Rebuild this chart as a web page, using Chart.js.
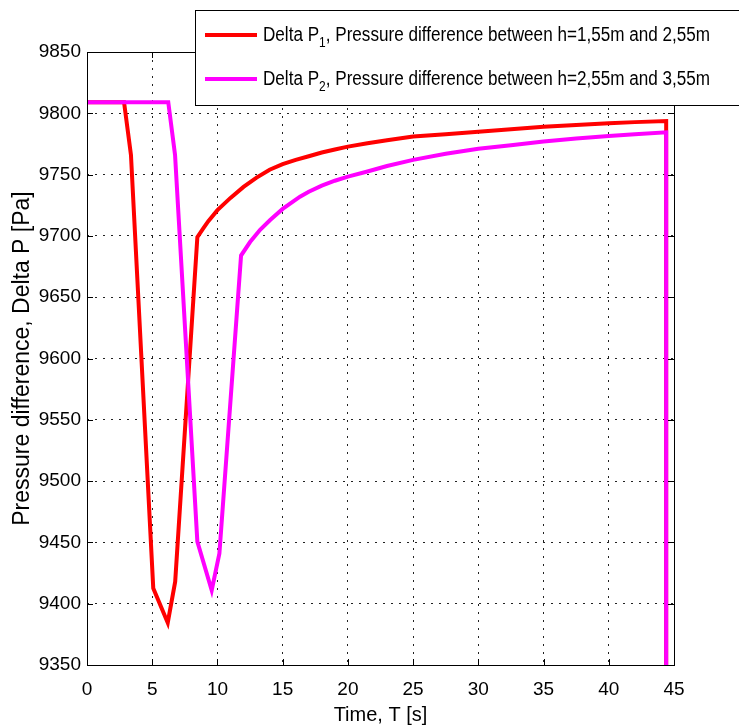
<!DOCTYPE html>
<html>
<head>
<meta charset="utf-8">
<script src="https://cdn.jsdelivr.net/npm/chart.js@4"></script>
<style>
  body { margin: 0; background: #fff; }
  canvas { display: block; }
</style>
</head>
<body>
<canvas id="pressure-chart" width="739" height="726"></canvas>
<script>
const p1Time = [0, 2.84, 3.37, 5.08, 6.19, 6.76, 8.46, 8.9, 9.3, 10, 11, 12, 13, 14, 15, 16, 17, 18, 19, 20, 21.5, 23, 25, 27.5, 30, 32.5, 35, 37.5, 40, 42, 44.4, 44.4]
const p1Values = [9809, 9809, 9766, 9412.6, 9384.5, 9418, 9699, 9706, 9712, 9721, 9731, 9740, 9747.5, 9754, 9758.5, 9762, 9765, 9768, 9770.5, 9772.8, 9775.5, 9778, 9781, 9783, 9785, 9787, 9789, 9790.5, 9791.8, 9792.8, 9793.7, 9300]

const p2Time = [0, 6.23, 6.75, 8.46, 9.56, 10.15, 11.81, 12.5, 13.27, 14.04, 15, 16.33, 17, 18, 19, 20, 21.5, 23, 25, 27.5, 30, 32.5, 35, 37.5, 40, 42, 44.4, 44.4]
const p2Values = [9809, 9809, 9766, 9450.6, 9411, 9441, 9684, 9695, 9705, 9713, 9722, 9732, 9736, 9741, 9745, 9748.3, 9752.5, 9757, 9762, 9767, 9771, 9774, 9777, 9779.5, 9781.5, 9783, 9784.5, 9300]

const seriesNames = ["Delta P", "Delta P"]
const seriesSubs = ["1", "2"]
const seriesRest = [", Pressure difference between h=1,55m and 2,55m", ", Pressure difference between h=2,55m and 3,55m"]
const seriesColors = ["#ff0000", "#ff00ff"]

const xTitle = "Time, T [s]"
const yTitle = "Pressure difference, Delta P [Pa]"

const fontFamily = "'Liberation Sans', Arial, sans-serif"

const toPoints = (xs, ys) => xs.map((x, i) => ({ x: x, y: ys[i] }))

// matlab style box with inward ticks
const boxPlugin = {
    id: "box",
    afterDatasetsDraw(chart) {
        const ctx = chart.ctx
        const a = chart.chartArea
        const xs = chart.scales.x
        const ys = chart.scales.y
        ctx.save()
        ctx.strokeStyle = "#000"
        ctx.lineWidth = 1
        ctx.beginPath()
        xs.ticks.forEach(t => {
            const px = Math.round(xs.getPixelForValue(t.value)) + 0.5
            ctx.moveTo(px, a.bottom); ctx.lineTo(px, a.bottom - 6)
            ctx.moveTo(px, a.top); ctx.lineTo(px, a.top + 6)
        })
        ys.ticks.forEach(t => {
            const py = Math.round(ys.getPixelForValue(t.value)) + 0.5
            ctx.moveTo(a.left, py); ctx.lineTo(a.left + 6, py)
            ctx.moveTo(a.right, py); ctx.lineTo(a.right - 6, py)
        })
        ctx.stroke()
        ctx.strokeRect(Math.round(a.left) + 0.5, Math.round(a.top) + 0.5, Math.round(a.right - a.left), Math.round(a.bottom - a.top))
        ctx.restore()
    }
}

const legendPlugin = {
    id: "subLegend",
    afterDraw(chart) {
        const ctx = chart.ctx
        ctx.save()
        ctx.fillStyle = "#fff"
        ctx.fillRect(195, 10, 560, 95)
        ctx.strokeStyle = "#000"
        ctx.lineWidth = 1
        ctx.strokeRect(195.5, 10.5, 560, 95)
        chart.data.datasets.forEach((ds, i) => {
            const ly = 35 + i * 44
            ctx.strokeStyle = ds.borderColor
            ctx.lineWidth = 4
            ctx.beginPath()
            ctx.moveTo(205, ly)
            ctx.lineTo(257, ly)
            ctx.stroke()

            // squeeze text a bit, the original font is narrow
            ctx.font = "20px " + fontFamily
            const w1 = ctx.measureText(seriesNames[i]).width + ctx.measureText(seriesRest[i]).width
            ctx.font = "14px " + fontFamily
            const w2 = ctx.measureText(seriesSubs[i]).width
            const sx = 447 / (w1 + w2)

            ctx.save()
            ctx.translate(263, 0)
            ctx.scale(sx, 1)
            ctx.fillStyle = "#000"
            ctx.textBaseline = "alphabetic"
            let x = 0
            ctx.font = "20px " + fontFamily
            ctx.fillText(seriesNames[i], x, ly + 6)
            x += ctx.measureText(seriesNames[i]).width
            ctx.font = "14px " + fontFamily
            ctx.fillText(seriesSubs[i], x, ly + 12)
            x += ctx.measureText(seriesSubs[i]).width
            ctx.font = "20px " + fontFamily
            ctx.fillText(seriesRest[i], x, ly + 6)
            ctx.restore()
        })
        ctx.restore()
    }
}

new Chart("pressure-chart", {
    type: "line",
    data: {
        datasets: [{
            label: seriesNames[0] + seriesSubs[0] + seriesRest[0],
            data: toPoints(p1Time, p1Values),
            borderColor: seriesColors[0],
            borderWidth: 4,
            pointRadius: 0,
            tension: 0,
            order: 1
        }, {
            label: seriesNames[1] + seriesSubs[1] + seriesRest[1],
            data: toPoints(p2Time, p2Values),
            borderColor: seriesColors[1],
            borderWidth: 4,
            pointRadius: 0,
            tension: 0,
            order: 0
        }]
    },
    options: {
        responsive: false,
        animation: false,
        devicePixelRatio: 1,
        layout: { padding: { top: 52, right: 65, left: 0, bottom: 0 } },
        plugins: {
            legend: { display: false },
            tooltip: { enabled: false }
        },
        scales: {
            x: {
                type: "linear",
                min: 0,
                max: 45,
                afterFit: (scale) => { scale.height = 61 },
                ticks: { stepSize: 5, color: "#000", padding: 13, maxRotation: 0, callback: (v) => String(v), font: { family: fontFamily, size: 19 } },
                grid: { color: "#222", drawTicks: false },
                border: { display: false, dash: [2, 6] },
                title: { display: true, text: xTitle, color: "#000", padding: { top: 0, bottom: 1 }, font: { family: fontFamily, size: 20, lineHeight: 1 } }
            },
            y: {
                min: 9350,
                max: 9850,
                afterFit: (scale) => { scale.width = 87 },
                ticks: { stepSize: 50, color: "#000", padding: 6, callback: (v) => String(v), font: { family: fontFamily, size: 19 } },
                grid: { color: "#222", drawTicks: false },
                border: { display: false, dash: [2, 6] },
                title: { display: true, text: yTitle, color: "#000", padding: { top: 11, bottom: 0 }, font: { family: fontFamily, size: 23, lineHeight: 1 } }
            }
        }
    },
    plugins: [boxPlugin, legendPlugin]
})
</script>
</body>
</html>
